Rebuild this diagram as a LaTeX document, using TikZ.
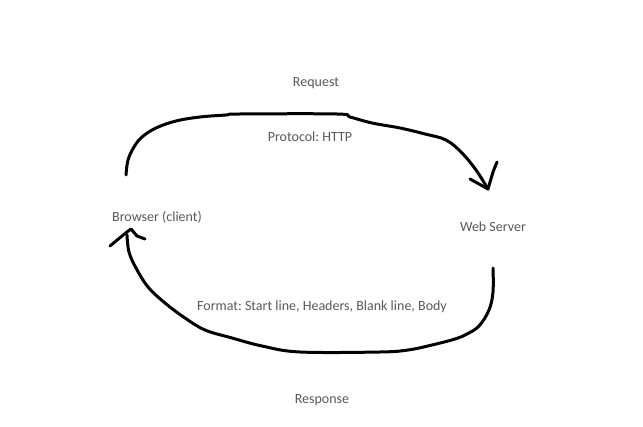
\documentclass[tikz,border=0pt]{standalone}
\usepackage{fontspec}
\setmainfont{Carlito}
\frenchspacing
\begin{document}
\begin{tikzpicture}[x=1pt,y=-1pt,
  lbl/.style={text=black!65, font=\fontsize{14}{16}\selectfont, inner sep=0pt},
  stroke/.style={line width=3pt, line cap=round, line join=round}]
\useasboundingbox[fill=white] (0,0) rectangle (643,427);
\node[lbl] (req) at (316,83) {Request};
\node[lbl] (proto) at (310,137) {Protocol: HTTP};
\node[lbl] (browser) at (157,217) {Browser (client)};
\node[lbl] (server) at (493,227) {Web Server};
\node[lbl] (format) at (322,307) {Format: Start line, Headers, Blank line, Body};
\node[lbl] (resp) at (322,400) {Response};
% request curve
\coordinate (rs) at (126,175);
\coordinate (rt) at (488,189);
\draw[stroke] plot[smooth, tension=0.6] coordinates {(rs) (128,160) (134,147) (142,137) (156,128) (176,121) (200,117) (226,115) (240,114) (337,114) (350,117) (372,123) (400,128) (425,134) (446,140) (462,153) (476,170) (rt)};
\draw[stroke] (470,179) -- (rt) -- (493,172) -- (497,162);
% response curve
\coordinate (ps) at (493,268);
\coordinate (pt) at (127,235);
\draw[stroke] plot[smooth, tension=0.6] coordinates {(ps) (493,292) (489,310) (479,326) (467,334) (455,339) (432,345) (408,350) (380,352) (300,352) (262,346) (232,338) (205,330) (185,318) (165,303) (148,287) (136,268) (129,252) (pt)};
\draw[stroke] (110,246) -- (122,236) -- (127,232) -- (131,229) -- (137,236) -- (145,239);
\end{tikzpicture}
\end{document}
